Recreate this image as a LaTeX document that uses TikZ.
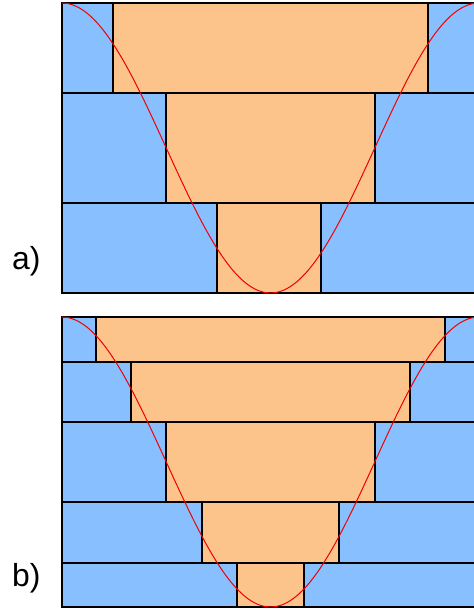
\documentclass[tikz,border=0pt]{standalone}
\usepackage{fontspec}
\setmainfont{Liberation Sans}
\definecolor{cblue}{RGB}{136,191,255}
\definecolor{corange}{RGB}{252,196,138}
\definecolor{cred}{RGB}{240,0,0}
\begin{document}
\begin{tikzpicture}[x=1bp,y=-1bp,
  blueband/.style={fill=cblue,draw=black,line width=1.1bp},
  orangebox/.style={fill=corange,draw=black,line width=1.1bp},
  curve/.style={draw=cred,line width=1bp},
  panellabel/.style={font=\fontsize{32}{32}\selectfont,inner sep=0pt,anchor=west}]
\useasboundingbox (0,0) rectangle (474,612);
\begin{scope}
\clip (0,0) rectangle (474,612);
% panel a
\foreach \ya/\yb/\xl/\xr in {3/93/113/428, 93/203/166/375, 203/293/217/321}{
  \path[blueband] (62,\ya) rectangle (479,\yb);
  \path[orangebox] (\xl,\ya) rectangle (\xr,\yb);
}
\draw[black,line width=1.5bp] (62,3) rectangle (479,293);
\draw[curve] plot[domain=0:360,samples=120,smooth] ({62+\x/360*417},{3+290*(1-cos(\x))/2});
% panel b
\foreach \ya/\yb/\xl/\xr in {317/362/96/445, 362/422/131/410, 422/502/166/375, 502/563/202/339, 563/607/237/304}{
  \path[blueband] (62,\ya) rectangle (479,\yb);
  \path[orangebox] (\xl,\ya) rectangle (\xr,\yb);
}
\draw[black,line width=1.5bp] (62,317) rectangle (479,607);
\draw[curve] plot[domain=0:360,samples=120,smooth] ({62+\x/360*417},{317+290*(1-cos(\x))/2});
\end{scope}
\node[panellabel] (la) at (12,261) {a)};
\node[panellabel] (lb) at (12,578) {b)};
\end{tikzpicture}
\end{document}
